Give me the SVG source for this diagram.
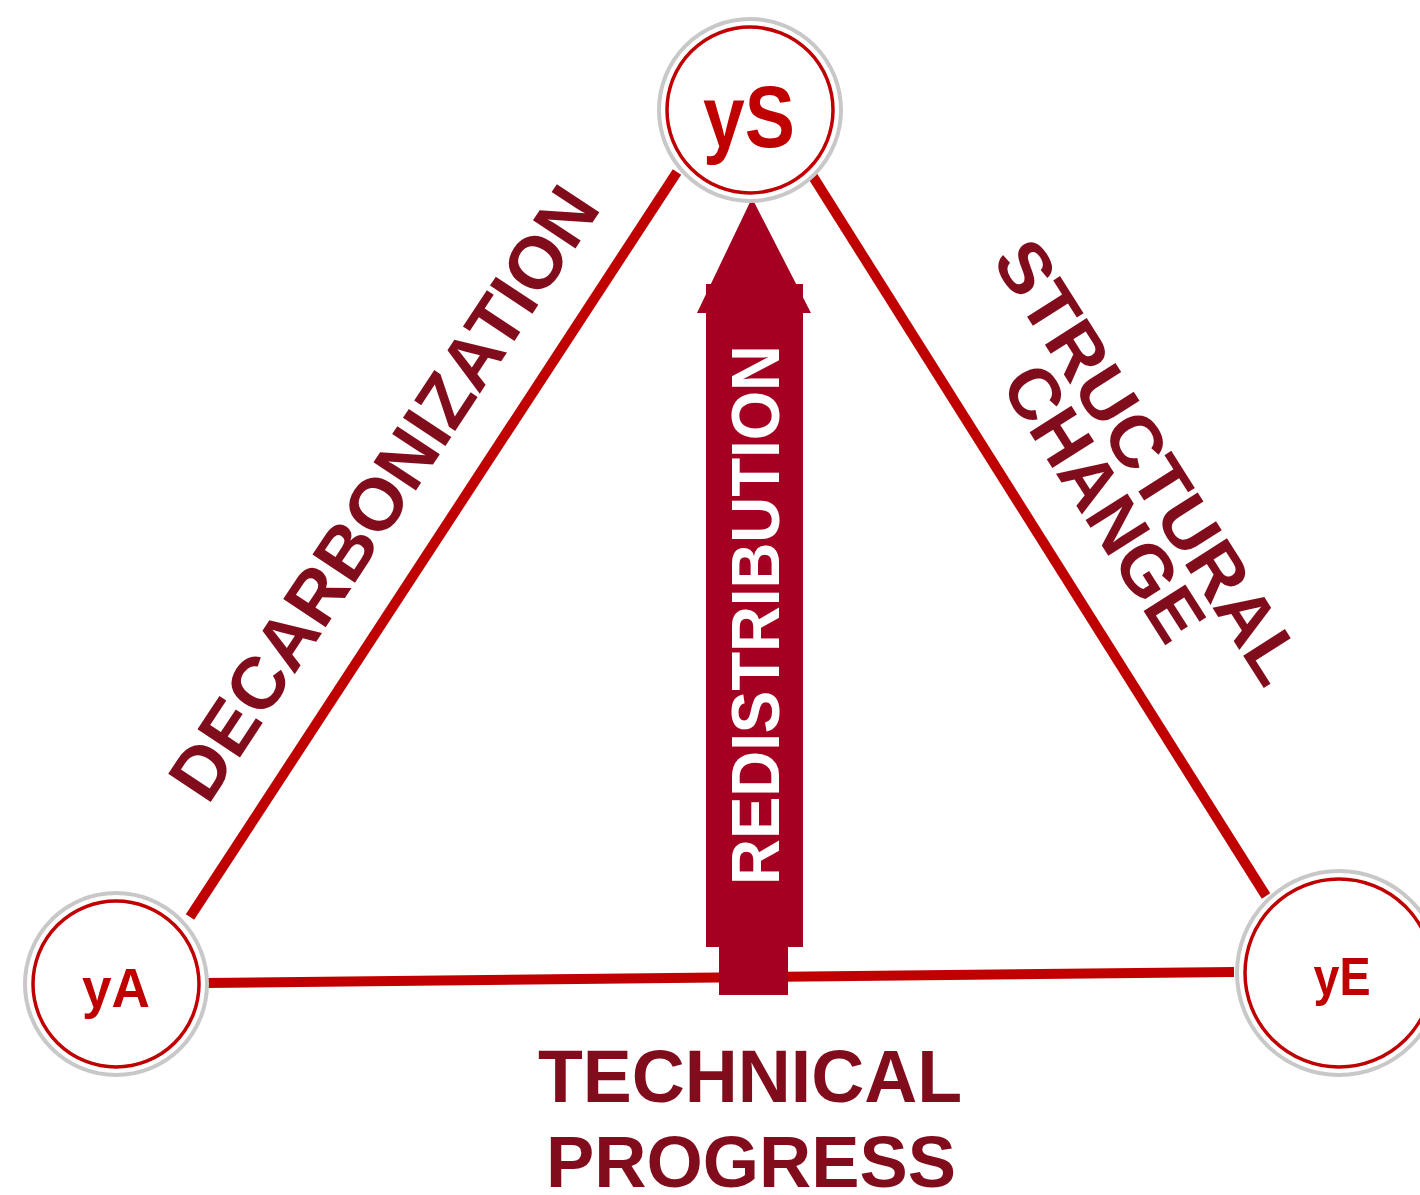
<svg xmlns="http://www.w3.org/2000/svg" width="1420" height="1195" viewBox="0 0 1420 1195">
  <style>
    .edge { stroke: #c00000; stroke-width: 10; fill: none; stroke-linecap: butt; }
    .ring { fill: #ffffff; stroke: #c8c8c8; stroke-width: 4; }
    .core { fill: none; stroke: #c00000; stroke-width: 3.5; }
    .node-label { font-family: "Liberation Sans", Arial, sans-serif; font-weight: bold; fill: #c00000; text-anchor: middle; }
    .side-label { font-family: "Liberation Sans", Arial, sans-serif; font-weight: bold; fill: #800c1c; text-anchor: middle; }
  </style>

  <!-- triangle edges and the redistribution arrow -->
  <g id="connectors">
    <line class="edge" x1="190" y1="917" x2="677" y2="172"/>
    <line class="edge" x1="812" y1="175" x2="1266" y2="896"/>
    <line class="edge" x1="204" y1="983" x2="1234" y2="972" stroke-width="11"/>
    <g id="redistribution-arrow" fill="#a50021">
      <polygon points="752,198 811,313 803,313 803,947 788,947 788,995 719,995 719,947 706,947 706,313 697,313"/>
      <rect x="706" y="284" width="97" height="30"/>
    </g>
  </g>

  <!-- nodes -->
  <g id="node-ys">
    <circle class="ring" cx="750" cy="110" r="91"/>
    <circle class="core" cx="750" cy="110" r="83"/>
    <text class="node-label" x="749" y="147" font-size="88" textLength="92" lengthAdjust="spacingAndGlyphs">yS</text>
  </g>
  <g id="node-ya">
    <circle class="ring" cx="116" cy="984" r="91" stroke="#cbcfd3"/>
    <circle class="core" cx="116" cy="984" r="83" stroke="#a8001e"/>
    <text class="node-label" x="116" y="1007" font-size="55" textLength="68" lengthAdjust="spacingAndGlyphs">yA</text>
  </g>
  <g id="node-ye">
    <circle class="ring" cx="1339" cy="973" r="102" stroke="#d0d0d0"/>
    <circle class="core" cx="1339" cy="973" r="94"/>
    <text class="node-label" x="1342" y="995" font-size="53" textLength="57" lengthAdjust="spacingAndGlyphs">yE</text>
  </g>

  <!-- edge labels -->
  <g id="label-decarbonization">
    <text class="side-label" font-size="74" textLength="716" lengthAdjust="spacingAndGlyphs" transform="translate(405,507) rotate(-56.6)">DECARBONIZATION</text>
  </g>
  <g id="label-structural-change">
    <text class="side-label" font-size="72" textLength="510" lengthAdjust="spacingAndGlyphs" transform="translate(1128,475) rotate(57.5)">STRUCTURAL</text>
    <text class="side-label" font-size="72" textLength="312" lengthAdjust="spacingAndGlyphs" transform="translate(1083,516) rotate(57.5)">CHANGE</text>
  </g>
  <g id="label-redistribution">
    <text font-family="Liberation Sans, Arial, sans-serif" font-weight="bold" fill="#ffffff" text-anchor="middle" font-size="68" textLength="540" lengthAdjust="spacingAndGlyphs" transform="translate(779,615) rotate(-90)">REDISTRIBUTION</text>
  </g>
  <g id="label-technical-progress">
    <text class="side-label" x="750" y="1102" font-size="74" textLength="424" lengthAdjust="spacingAndGlyphs">TECHNICAL</text>
    <text class="side-label" x="751" y="1187" font-size="73" textLength="410" lengthAdjust="spacingAndGlyphs">PROGRESS</text>
  </g>
</svg>
